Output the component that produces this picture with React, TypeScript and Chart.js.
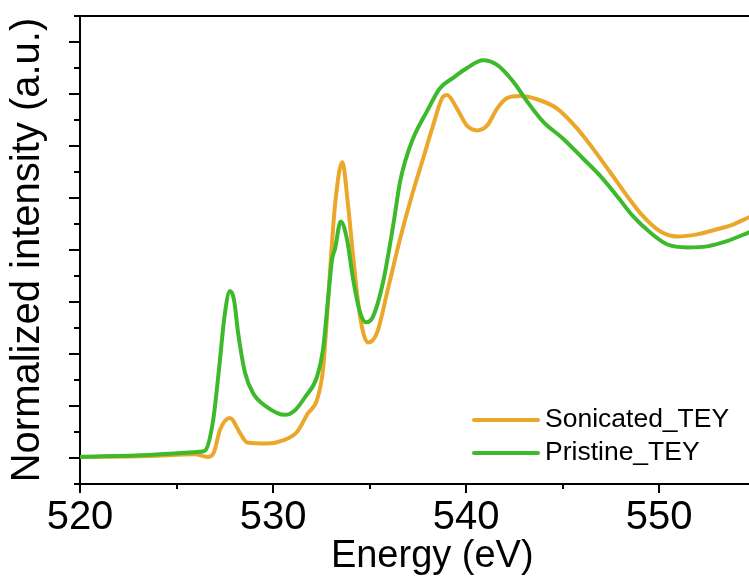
import React, { useEffect, useRef } from "react";
import { Chart, registerables } from "chart.js";

Chart.register(...registerables);

// ---- data ----
const sonicatedEnergy = [520.0, 523.63, 525.96, 526.63, 526.94, 527.25, 527.77, 528.29, 528.65, 529.69, 530.52, 531.24, 531.81, 532.28, 532.59, 532.8, 532.95, 533.21, 533.59, 533.89, 534.15, 534.51, 534.92, 535.39, 535.91, 536.58, 537.25, 537.77, 538.29, 538.76, 539.02, 539.53, 540.05, 540.57, 541.09, 541.61, 542.12, 542.8, 543.83, 544.72, 545.75, 546.58, 547.46, 548.34, 549.17, 550.05, 550.93, 551.97, 553.01, 553.83, 554.66, 556.5];
const sonicatedIntensity = [0.02, 0.04, 0.07, 0.02, 0.11, 0.54, 0.77, 0.48, 0.3, 0.28, 0.34, 0.5, 0.86, 1.12, 1.7, 2.72, 3.57, 4.85, 5.69, 4.85, 3.88, 2.72, 2.22, 2.41, 3.18, 4.21, 5.12, 5.75, 6.39, 6.92, 6.98, 6.72, 6.39, 6.3, 6.39, 6.72, 6.92, 6.96, 6.88, 6.72, 6.34, 5.95, 5.5, 5.04, 4.65, 4.36, 4.26, 4.3, 4.4, 4.49, 4.63, 4.9];

const pristineEnergy = [520.0, 523.6, 526.2, 526.5, 526.9, 527.2, 527.5, 527.77, 527.98, 528.19, 528.55, 528.96, 529.69, 530.62, 531.14, 531.66, 532.28, 532.59, 532.85, 533.06, 533.21, 533.51, 533.83, 534.15, 534.51, 534.82, 535.18, 535.7, 536.22, 536.58, 536.84, 537.25, 537.98, 538.65, 539.33, 540.05, 540.88, 541.61, 542.44, 543.16, 543.99, 545.03, 546.06, 546.94, 547.82, 548.65, 549.53, 550.41, 551.45, 552.49, 553.52, 554.66, 556.5];
const pristineIntensity = [0.02, 0.06, 0.12, 0.15, 0.73, 1.7, 2.76, 3.21, 3.04, 2.41, 1.64, 1.25, 0.98, 0.83, 0.92, 1.17, 1.56, 2.08, 3.05, 3.82, 4.02, 4.55, 4.21, 3.44, 2.8, 2.61, 2.72, 3.38, 4.46, 5.31, 5.7, 6.14, 6.67, 7.11, 7.31, 7.5, 7.65, 7.56, 7.24, 6.86, 6.47, 6.14, 5.76, 5.43, 5.04, 4.65, 4.34, 4.11, 4.05, 4.07, 4.17, 4.34, 4.6];

const seriesLabels = ["Sonicated_TEY", "Pristine_TEY"];
const seriesColors = ["#EBA72A", "#3DBA2C"];

const xTickValues = [520, 530, 540, 550];
const xMinorTickValues = [525, 535, 545, 555];
const yMajorTickValues = [0, 1, 2, 3, 4, 5, 6, 7, 8];
const yMinorTickValues = [-0.5, 0.5, 1.5, 2.5, 3.5, 4.5, 5.5, 6.5, 7.5, 8.5];

const X_MIN = 520;
const X_MAX = 556.5;
const Y_MIN = -0.5;
const Y_MAX = 8.5;

const FONT = "'Liberation Sans', Arial, sans-serif";

const framePlugin = {
  id: "frame",
  afterDraw(chart: any) {
    const { ctx, chartArea, scales } = chart;
    const xs = scales.x;
    const ys = scales.y;
    ctx.save();
    ctx.strokeStyle = "#000";
    ctx.lineWidth = 2;
    ctx.lineCap = "butt";
    // top frame line
    ctx.beginPath();
    ctx.moveTo(chartArea.left, chartArea.top);
    ctx.lineTo(chartArea.right, chartArea.top);
    ctx.stroke();
    // y ticks (outward, left)
    const drawY = (v: number, len: number) => {
      const py = Math.round(ys.getPixelForValue(v));
      ctx.beginPath();
      ctx.moveTo(chartArea.left - len, py);
      ctx.lineTo(chartArea.left, py);
      ctx.stroke();
    };
    yMajorTickValues.forEach((v) => drawY(v, 11));
    yMinorTickValues.forEach((v) => drawY(v, 6));
    // x ticks (outward, down)
    const drawX = (v: number, len: number) => {
      const px = Math.round(xs.getPixelForValue(v));
      ctx.beginPath();
      ctx.moveTo(px, chartArea.bottom);
      ctx.lineTo(px, chartArea.bottom + len);
      ctx.stroke();
    };
    xTickValues.forEach((v) => drawX(v, 9));
    xMinorTickValues.forEach((v) => drawX(v, 5));

    // legend
    const legendX = 474;
    const legendY = [420, 453];
    chart.data.datasets.forEach((ds: any, i: number) => {
      const idx = seriesLabels.indexOf(ds.label);
      const y = legendY[idx];
      ctx.strokeStyle = ds.borderColor;
      ctx.lineWidth = 4;
      ctx.lineCap = "round";
      ctx.beginPath();
      ctx.moveTo(legendX, y);
      ctx.lineTo(legendX + 64, y);
      ctx.stroke();
      ctx.fillStyle = "#000";
      ctx.font = `26.5px ${FONT}`;
      ctx.textBaseline = "middle";
      ctx.textAlign = "left";
      ctx.fillText(ds.label, legendX + 71, y);
    });
    ctx.restore();
  },
};

export default function App() {
  const canvasRef = useRef<HTMLCanvasElement | null>(null);

  useEffect(() => {
    const canvas = canvasRef.current;
    if (!canvas) return;
    const chart = new Chart(canvas, {
      type: "line",
      data: {
        datasets: [
          {
            label: seriesLabels[0],
            data: sonicatedEnergy.map((x, i) => ({ x, y: sonicatedIntensity[i] })),
            borderColor: seriesColors[0],
            backgroundColor: seriesColors[0],
            borderWidth: 4,
            pointRadius: 0,
            cubicInterpolationMode: "monotone",
            fill: false,
            order: 2,
          },
          {
            label: seriesLabels[1],
            data: pristineEnergy.map((x, i) => ({ x, y: pristineIntensity[i] })),
            borderColor: seriesColors[1],
            backgroundColor: seriesColors[1],
            borderWidth: 4,
            pointRadius: 0,
            cubicInterpolationMode: "monotone",
            fill: false,
            order: 1,
          },
        ],
      },
      options: {
        animation: false,
        responsive: false,
        devicePixelRatio: 1,
        layout: { padding: { top: 16, left: 0, right: 15.5, bottom: 0 } },
        plugins: {
          legend: { display: false },
          tooltip: { enabled: false },
        },
        scales: {
          x: {
            type: "linear",
            min: X_MIN,
            max: X_MAX,
            grid: { display: false, drawTicks: false },
            border: { display: true, color: "#000", width: 2 },
            ticks: {
              color: "#000",
              font: { family: FONT, size: 40 },
              padding: 10,
              maxRotation: 0,
              autoSkip: false,
              callback: (v: any) => (xTickValues.includes(Number(v)) ? String(v) : ""),
            },
            afterBuildTicks: (scale: any) => {
              scale.ticks = xTickValues.map((v) => ({ value: v }));
            },
            afterFit: (scale: any) => {
              scale.height = 98;
            },
            title: {
              display: true,
              text: "Energy (eV)",
              color: "#000",
              font: { family: FONT, size: 38 },
              padding: { top: 0, bottom: 3 },
            },
          },
          y: {
            type: "linear",
            min: Y_MIN,
            max: Y_MAX,
            grid: { display: false, drawTicks: false },
            border: { display: true, color: "#000", width: 2 },
            ticks: { display: false },
            afterFit: (scale: any) => {
              scale.width = 80;
            },
            title: {
              display: true,
              text: "Normalized intensity (a.u.)",
              color: "#000",
              font: { family: FONT, size: 40 },
              padding: { top: 4, bottom: 0 },
            },
          },
        },
      },
      plugins: [framePlugin],
    });
    return () => chart.destroy();
  }, []);

  return (
    <div
      style={{
        position: "fixed",
        left: 0,
        top: 0,
        width: 749,
        height: 582,
        overflow: "hidden",
        background: "#fff",
      }}
    >
      <canvas ref={canvasRef} width={800} height={582} style={{ display: "block" }} />
    </div>
  );
}
